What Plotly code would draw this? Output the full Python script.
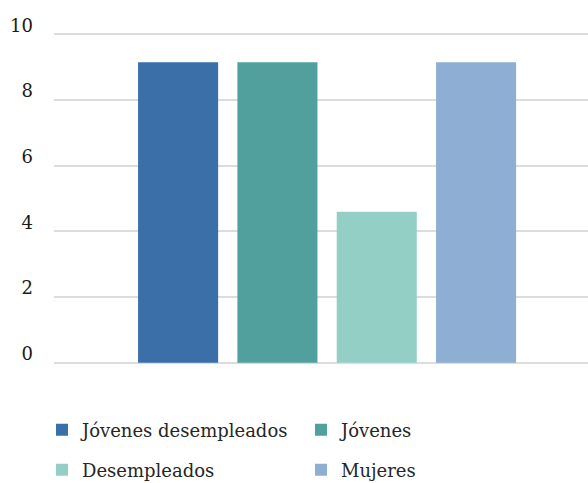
import plotly.graph_objects as go

# Data
series = ["Jóvenes desempleados", "Jóvenes", "Desempleados", "Mujeres"]
values = [9.15, 9.15, 4.6, 9.15]
colors = ["#3A6FA8", "#52A09E", "#93CFC4", "#8FAED4"]
group = ["Población"]
y_ticks = [0, 2, 4, 6, 8, 10]

W, H = 588, 483
ML, MR, MT, MB = 54, 0, 31, 117
SERIF = "DejaVu Serif"

fig = go.Figure()
for i, (name, val, col) in enumerate(zip(series, values, colors)):
    fig.add_trace(go.Bar(
        x=group, y=[val], name=name,
        marker=dict(color=col, line=dict(width=0)),
        legend="legend" if i < 2 else "legend2",
    ))


def cy(pix):
    return (H - pix) / H


def cx(pix):
    return pix / W


# two single-row legends stacked to give a 2 x 2 key
legend_common = dict(
    orientation="h", xanchor="left", yanchor="middle",
    xref="container", yref="container",
    entrywidth=214, entrywidthmode="pixels",
    font=dict(family=SERIF, size=18, color="#262626"),
    bgcolor="rgba(0,0,0,0)", itemclick=False,
)

fig.update_layout(
    width=W, height=H,
    margin=dict(l=ML, r=MR, t=MT, b=MB, pad=0, autoexpand=False),
    paper_bgcolor="white", plot_bgcolor="white",
    font=dict(family=SERIF),
    barmode="group", bargap=0.256, bargroupgap=0.194,
    showlegend=True,
    legend=dict(x=cx(42), y=cy(430), **legend_common),
    legend2=dict(x=cx(42), y=cy(470), **legend_common),
    xaxis=dict(range=[-0.5114, 0.4886], showticklabels=False, showgrid=False,
               zeroline=False, showline=False, ticks=""),
    yaxis=dict(range=[-0.1, 10.1], tickvals=y_ticks, showgrid=True,
               gridcolor="#DCDCDC", gridwidth=2, zeroline=False,
               showline=False, ticks="",
               tickfont=dict(family=SERIF, size=18, color="#1a1a1a"),
               ticklabelstandoff=20, ticklabelshift=-9),
)

fig.write_html("out.html")
